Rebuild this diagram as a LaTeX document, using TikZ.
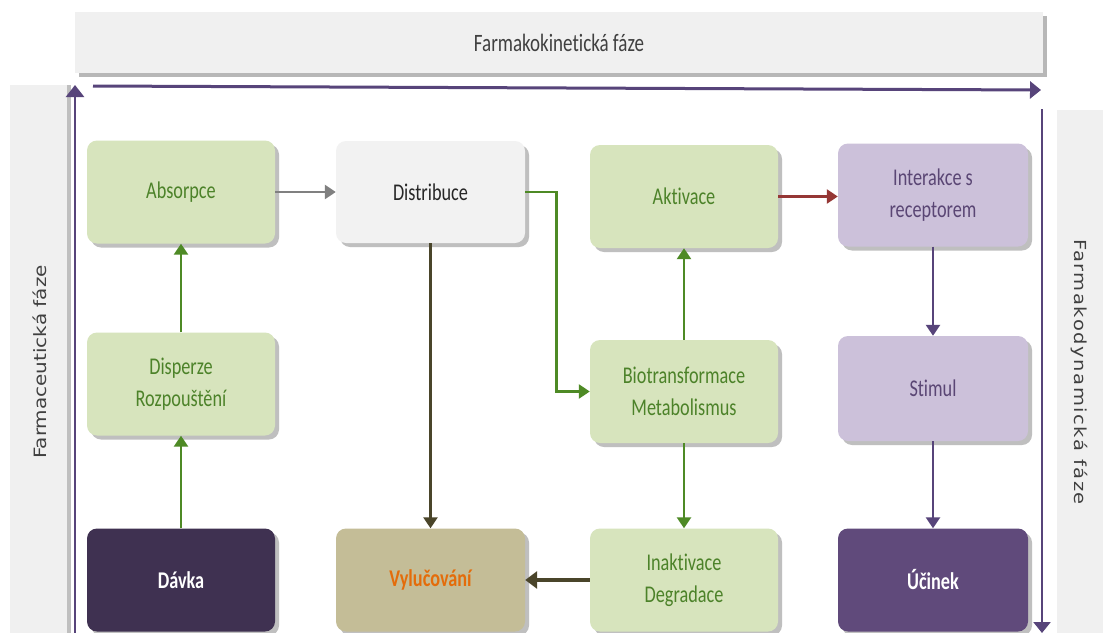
\documentclass[tikz,border=0pt]{standalone}
\usepackage{fontspec}
\setmainfont{Carlito}[FakeStretch=0.76, Ligatures=NoCommon]
\newfontfamily\sidefont{DejaVu Sans}
\usetikzlibrary{arrows.meta,shadows}

\definecolor{greenfill}{HTML}{D7E4BD}
\definecolor{greentext}{HTML}{4C8229}
\definecolor{greenline}{HTML}{4E8A25}
\definecolor{lilacfill}{HTML}{CCC1DA}
\definecolor{lilactext}{HTML}{5A4674}
\definecolor{darkplum}{HTML}{3F3151}
\definecolor{plum}{HTML}{604A7B}
\definecolor{paper}{HTML}{F2F2F2}
\definecolor{khaki}{HTML}{C4BD97}
\definecolor{orangetext}{HTML}{E46C0A}
\definecolor{olive}{HTML}{4A452A}
\definecolor{brick}{HTML}{953735}
\definecolor{axis}{HTML}{57447A}
\definecolor{banner}{HTML}{F0F0F0}

\tikzset{
  box/.style={rounded corners=10pt, minimum width=188pt, minimum height=103pt,
    align=center, font=\fontsize{24}{32}\selectfont,
    drop shadow={shadow xshift=4pt, shadow yshift=-4pt, fill=black!45, opacity=.55}},
  greenbox/.style={box, fill=greenfill, text=greentext},
  lilacbox/.style={box, fill=lilacfill, text=lilactext},
  darkbox/.style={box, text=white, font=\fontsize{24}{32}\selectfont\bfseries},
  flow/.style={line width=2.6pt, -{Triangle[length=11pt,width=14pt]}},
  phase/.style={line width=3pt, draw=axis},
  bannerbox/.style={fill=banner, draw=none},
  sidelabel/.style={text=black!75, inner sep=0pt},
}

\begin{document}
\begin{tikzpicture}[x=1pt,y=-1pt]
\useasboundingbox (0,0) rectangle (1103,632);
\clip (0,0) rectangle (1103,632);
\fill[white] (0,0) rectangle (1103,632);

% phase banners
\node[bannerbox, minimum width=968pt, minimum height=61pt,
  drop shadow={shadow xshift=4pt, shadow yshift=-4pt, fill=black!40, opacity=.7}]
  (kin) at (559,42.5) {\fontsize{25}{28}\selectfont\color{black!75}Farmakokinetická fáze};
\fill[banner] (10,85) rectangle (68,640);
\fill[black!25] (67,85) rectangle (71,640);
\node[sidelabel, rotate=90] (cut) at (40,362)
  {\scalebox{1}[0.85]{\sidefont\fontsize{20}{22}\selectfont Farmaceutická fáze}};
\fill[banner] (1057,110) rectangle (1110,640);
\node[sidelabel, rotate=-90] (dyn) at (1079,372)
  {\scalebox{1}[0.85]{\sidefont\fontsize{19.5}{22}\selectfont\addfontfeature{LetterSpace=8}Farmakodynamická fáze}};

% phase arrows
\coordinate (kinA) at (93,86);
\coordinate (kinB) at (1041,90);
\coordinate (cutA) at (75,640);
\coordinate (cutB) at (75,85);
\coordinate (dynA) at (1042,109);
\coordinate (dynB) at (1042,633);
\draw[phase, -{Triangle[length=11pt,width=17pt]}] (kinA) -- (kinB);
\draw[phase, line width=2.5pt, -{Triangle[length=12pt,width=18pt]}] (cutA) -- (cutB);
\draw[phase, line width=2.5pt, -{Triangle[length=11pt,width=17pt]}] (dynA) -- (dynB);

% process boxes
\node[greenbox] (abs) at (181,192) {Absorpce};
\node[greenbox] (disp) at (181,384) {Disperze\\Rozpouštění};
\node[darkbox, fill=darkplum] (dose) at (181,580) {Dávka};
\node[box, fill=paper, text=black!85, minimum width=189pt, minimum height=102pt] (dist) at (430.5,192) {Distribuce};
\node[darkbox, fill=khaki, text=orangetext, minimum width=189pt] (excr) at (430.5,580) {Vylučování};
\node[greenbox] (act) at (684,196.5) {Aktivace};
\node[greenbox] (bio) at (684,391.5) {Biotransformace\\Metabolismus};
\node[greenbox] (inact) at (684,580) {Inaktivace\\Degradace};
\node[lilacbox, minimum width=190pt] (rec) at (933,195) {Interakce s\\receptorem};
\node[lilacbox, minimum width=190pt, minimum height=105pt] (stim) at (933,388.5) {Stimul};
\node[darkbox, fill=plum, minimum width=190pt] (eff) at (933,580) {Účinek};

% connectors
\draw[flow, draw=black!50] (abs.east) -- (dist.west |- abs.east);
\draw[flow, draw=greenline] (dose) -- (disp);
\draw[flow, draw=greenline] (disp) -- (abs);
\draw[flow, draw=greenline] (dist.east) -- ++(31,0) |- (bio.west);
\draw[flow, draw=olive] (dist) -- (excr);
\draw[flow, draw=greenline] (bio) -- (act);
\draw[flow, draw=greenline] (bio) -- (inact);
\draw[flow, draw=olive, line width=3.5pt, -{Triangle[length=12pt,width=17pt]}] (inact) -- (excr);
\draw[flow, draw=brick] (act.east) -- (rec.west |- act.east);
\draw[flow, draw=axis] (rec) -- (stim);
\draw[flow, draw=axis] (stim) -- (eff);
\end{tikzpicture}
\end{document}
